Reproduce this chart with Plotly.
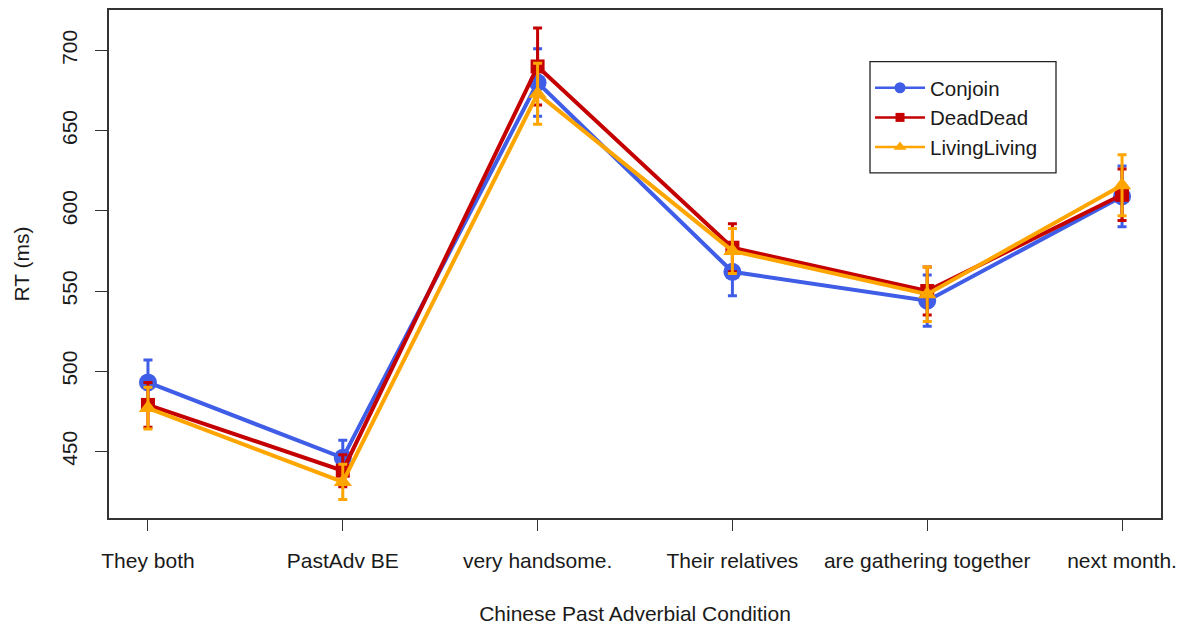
import plotly.graph_objects as go

# Reaction times (ms) per sentence region, with standard-error bars
regions = ["They both", "PastAdv BE", "very handsome.", "Their relatives",
           "are gathering together", "next month."]

conjoin = [493, 446, 680, 562, 544, 609]
conjoin_err = [14, 11, 21, 15, 16, 19]

deaddead = [479, 438, 690, 577, 550, 610]
deaddead_err = [14, 10, 24, 15, 15, 16]

livingliving = [477, 431, 673, 575, 548, 616]
livingliving_err = [13, 11, 19, 14, 17, 19]

y_ticks = [450, 500, 550, 600, 650, 700]

series = [
    ("Conjoin", conjoin, conjoin_err, "#3f5de6", "circle", 18, 11),
    ("DeadDead", deaddead, deaddead_err, "#c40000", "square", 14, 9),
    ("LivingLiving", livingliving, livingliving_err, "#ffa500", "triangle-up", 16, 11),
]

FONT = "Liberation Sans, Arial, Helvetica, sans-serif"
TXT = "#1a1a1a"

fig = go.Figure()
xs = list(range(len(regions)))

for name, vals, errs, color, symbol, msize, _ in series:
    fig.add_trace(go.Scatter(
        x=xs, y=vals, mode="lines+markers", name=name, showlegend=False,
        line=dict(color=color, width=4),
        marker=dict(symbol=symbol, size=msize, color=color, line=dict(width=0)),
        error_y=dict(type="data", array=errs, visible=True, color=color,
                     thickness=3, width=4.5),
    ))

# legend entries with smaller symbols
for name, vals, errs, color, symbol, msize, lsize in series:
    fig.add_trace(go.Scatter(
        x=[None], y=[None], mode="lines+markers", name=name,
        line=dict(color=color, width=2.5),
        marker=dict(symbol=symbol, size=lsize, color=color),
    ))

fig.update_layout(
    width=1189, height=630,
    margin=dict(l=109, r=28, t=8, b=111),
    plot_bgcolor="white", paper_bgcolor="white",
    font=dict(family=FONT, size=21, color=TXT),
    showlegend=True,
    legend=dict(
        x=0.7234, y=0.886, xanchor="left", yanchor="top",
        bgcolor="rgba(0,0,0,0)", borderwidth=0,
        font=dict(size=20.5, color=TXT), itemwidth=50,
        tracegroupgap=0,
    ),
    shapes=[dict(type="rect", xref="paper", yref="paper",
                 x0=(870 - 109) / 1052, x1=(1056 - 109) / 1052,
                 y0=(519.3 - 172) / 511.3, y1=(519.3 - 60) / 511.3,
                 line=dict(color="#222", width=1.3), fillcolor="rgba(0,0,0,0)")],
)

fig.update_xaxes(
    range=[-0.2, 5.2], tickmode="array", tickvals=xs, ticktext=regions,
    showgrid=False, zeroline=False, showline=True, mirror=True,
    linecolor="#333", linewidth=1.5, ticks="outside", ticklen=11,
    tickcolor="#333", tickwidth=1.3, ticklabelstandoff=12,
    tickfont=dict(size=21, color=TXT),
    title=dict(text="Chinese Past Adverbial Condition", standoff=35,
               font=dict(size=21, color=TXT)),
)
fig.update_yaxes(
    range=[408.5, 725.2], tickmode="array", tickvals=y_ticks,
    showgrid=False, zeroline=False, showline=True, mirror=True,
    linecolor="#333", linewidth=1.5, ticks="outside", ticklen=12,
    tickcolor="#333", tickwidth=1.3, tickangle=-90, ticklabelstandoff=10,
    tickfont=dict(size=21, color=TXT),
    title=dict(text="RT (ms)", standoff=22, font=dict(size=21, color=TXT)),
)

fig.write_html("out.html")
